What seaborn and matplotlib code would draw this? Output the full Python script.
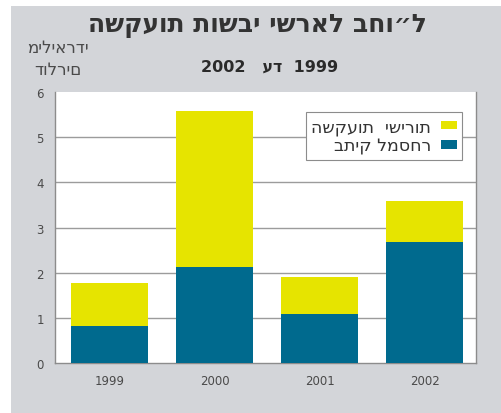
import matplotlib
matplotlib.use("Agg")
import matplotlib.pyplot as plt
import matplotlib.patches as mpatches
import seaborn as sns
import pandas as pd

# Data: billions of dollars
years = ["1999", "2000", "2001", "2002"]
portfolio = [0.81, 2.13, 1.08, 2.67]      # trading portfolio
direct = [0.97, 3.45, 0.82, 0.92]         # direct investments
y_ticks = [0, 1, 2, 3, 4, 5, 6]

title_text = "השקעות תושבי ישראל בחו״ל"
subtitle_text = "2002   עד  1999"
ylabel_lines = ["מיליארדי", "דולרים"]
label_direct = "השקעות  ישירות"
label_portfolio = "בתיק למסחר"

YELLOW = "#E6E400"
TEAL = "#006A8E"
PANEL = "#D3D5D9"
GRID = "#9C9C9C"
TEXT = "#4A4A4A"

sns.set_theme(style="white")
plt.rcParams["font.family"] = ["DejaVu Sans"]

df = pd.DataFrame({
    "year": years,
    "portfolio": portfolio,
    "direct": direct,
})
df["total"] = df["portfolio"] + df["direct"]

fig = plt.figure(figsize=(5.01, 4.14), dpi=100)
fig.patch.set_facecolor("white")
# grey backing panel
fig.patches.append(mpatches.Rectangle((11 / 501, 0), 1 - 11 / 501, 1 - 7 / 414,
                                      transform=fig.transFigure, facecolor=PANEL,
                                      edgecolor="none", zorder=-5))

ax = fig.add_axes([55 / 501, 1 - 364 / 414, (476 - 55) / 501, (364 - 93) / 414])
ax.set_zorder(2)
ax.set_facecolor("white")

sns.barplot(data=df, x="year", y="total", color=YELLOW, width=0.73,
            saturation=1, ax=ax, zorder=3, linewidth=0)
sns.barplot(data=df, x="year", y="portfolio", color=TEAL, width=0.73,
            saturation=1, ax=ax, zorder=4, linewidth=0)

ax.set_ylim(0, 6)
ax.set_xlim(-0.52, 3.49)
ax.set_yticks(y_ticks)
ax.set_xlabel("")
ax.set_ylabel("")
for y in y_ticks[1:-1]:
    ax.axhline(y, color=GRID, lw=1, zorder=1)

ax.spines["top"].set_visible(False)
for side in ["left", "bottom", "right"]:
    ax.spines[side].set_visible(True)
    ax.spines[side].set_color("#8C8C8C")
    ax.spines[side].set_linewidth(1)

ax.tick_params(axis="both", length=0, labelsize=8.5, labelcolor=TEXT)
ax.tick_params(axis="y", pad=8)
ax.tick_params(axis="x", pad=8)

handles = [
    mpatches.Patch(facecolor=YELLOW, edgecolor="none", label=label_direct),
    mpatches.Patch(facecolor=TEAL, edgecolor="none", label=label_portfolio),
]
leg = ax.legend(handles=handles, loc="upper right", bbox_to_anchor=(0.967, 0.926),
                borderaxespad=0, markerfirst=False, fancybox=False, framealpha=1,
                edgecolor="#8C8C8C", fontsize=12.5, handlelength=0.9,
                handleheight=0.4, handletextpad=0.6, labelspacing=0.1,
                borderpad=0.3, labelcolor="#333333")
leg.get_frame().set_linewidth(0.8)
leg.set_zorder(10)

fig.text(257 / 501, 1 - 26 / 414, title_text, ha="center", va="center",
         fontsize=18, fontweight="bold", color="#333333")
fig.text(270 / 501, 1 - 67 / 414, subtitle_text, ha="center", va="center",
         fontsize=11.5, fontweight="bold", color="#2A2A2A")
fig.text(58 / 501, 1 - 48 / 414, ylabel_lines[0], ha="center", va="center",
         fontsize=12, color=TEXT)
fig.text(58 / 501, 1 - 70 / 414, ylabel_lines[1], ha="center", va="center",
         fontsize=12, color=TEXT)

fig.savefig("out.png", dpi=100, facecolor=fig.get_facecolor())
